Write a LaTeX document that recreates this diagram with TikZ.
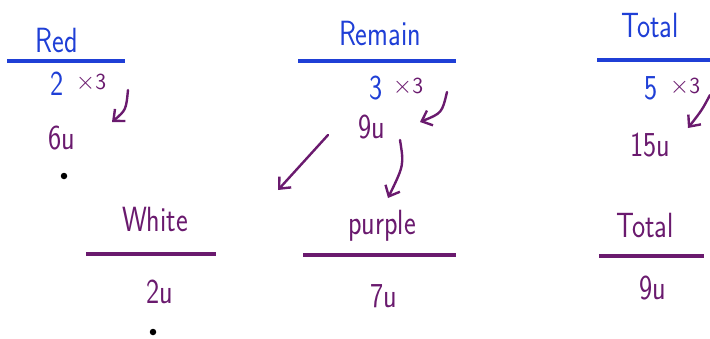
\documentclass[tikz,border=0pt]{standalone}
\usetikzlibrary{arrows.meta}
\definecolor{inkblue}{HTML}{1F3FD6}
\definecolor{inkpurple}{HTML}{6A1A6E}
\newcommand{\tallw}[1]{\scalebox{1}[1.25]{#1}}
\tikzset{
  word/.style={font=\sffamily\fontsize{28}{32}\selectfont, inner sep=0pt},
  bluew/.style={word, text=inkblue},
  purpw/.style={word, text=inkpurple},
  num/.style={font=\sffamily\fontsize{28}{30}\selectfont, inner sep=0pt},
  times/.style={font=\sffamily\fontsize{23}{25}\selectfont, inner sep=0pt, text=inkpurple},
  bline/.style={draw=inkblue, line width=3.2pt},
  pline/.style={draw=inkpurple, line width=3.2pt},
  harrow/.style={draw=inkpurple, line width=2.4pt, line cap=round, -{Straight Barb[length=9pt,width=16pt,line width=2.4pt]}},
  dotmark/.style={circle, fill=black, inner sep=0pt, minimum size=6.5pt}
}
\begin{document}
\begin{tikzpicture}[x=1pt,y=-1pt]
\useasboundingbox (0,0) rectangle (710,338);
% ---- Red column
\node[bluew] (red) at (57,40) {\tallw{Red}};
\coordinate (redL) at (7,61); \coordinate (redR) at (125,61);
\draw[bline] (redL) -- (redR);
\node[num, text=inkblue] (two) at (57,84) {\tallw{2}};
\node[times] (x3a) at (91,83) {$\times$3};
\node[purpw, num] (sixu) at (62,138) {\tallw{6u}};
\coordinate (a1s) at (128,90); \coordinate (a1e) at (112,122);
\draw[harrow] (a1s) .. controls (126,110) .. (a1e);
\node[dotmark] (dot1) at (64,176) {};
% ---- Remain column
\node[bluew] (remain) at (380,33) {\tallw{Remain}};
\coordinate (remL) at (298,61); \coordinate (remR) at (456,61);
\draw[bline] (remL) -- (remR);
\node[num, text=inkblue] (three) at (376,88) {\tallw{3}};
\node[times] (x3b) at (408,87) {$\times$3};
\node[purpw, num] (ninu) at (372,127) {\tallw{9u}};
\coordinate (a2s) at (447,92); \coordinate (a2e) at (420,122);
\draw[harrow] (a2s) .. controls (442,113) .. (a2e);
\coordinate (a3s) at (328,135); \coordinate (a3e) at (278,190);
\draw[harrow] (a3s) -- (a3e);
\coordinate (a4s) at (400,140); \coordinate (a4e) at (388,198);
\draw[harrow] (a4s) .. controls (404,165) .. (a4e);
% ---- Total column (top)
\node[bluew] (total) at (650,25) {\tallw{Total}};
\coordinate (totL) at (597,60); \coordinate (totR) at (710,60);
\draw[bline] (totL) -- (totR);
\node[num, text=inkblue] (five) at (651,88) {\tallw{5}};
\node[times] (x3c) at (685,87) {$\times$3};
\node[purpw, num] (fifu) at (650,145) {\tallw{15u}};
\coordinate (a5s) at (710,95); \coordinate (a5e) at (688,128);
\draw[harrow] (a5s) .. controls (702,110) .. (a5e);
% ---- White
\node[purpw] (white) at (155,219) {\tallw{White}};
\coordinate (whL) at (86,254); \coordinate (whR) at (216,254);
\draw[pline] (whL) -- (whR);
\node[purpw, num] (twou) at (160,292) {\tallw{2u}};
\node[dotmark] (dot2) at (153,332) {};
% ---- purple
\node[purpw] (purp) at (382,226) {\tallw{purple}};
\coordinate (puL) at (303,255); \coordinate (puR) at (456,255);
\draw[pline] (puL) -- (puR);
\node[purpw, num] (sevu) at (384,296) {\tallw{7u}};
% ---- Total (bottom)
\node[purpw] (total2) at (645,225) {\tallw{Total}};
\coordinate (t2L) at (599,256); \coordinate (t2R) at (704,256);
\draw[pline] (t2L) -- (t2R);
\node[purpw, num] (ninu2) at (653,288) {\tallw{9u}};
\end{tikzpicture}
\end{document}
